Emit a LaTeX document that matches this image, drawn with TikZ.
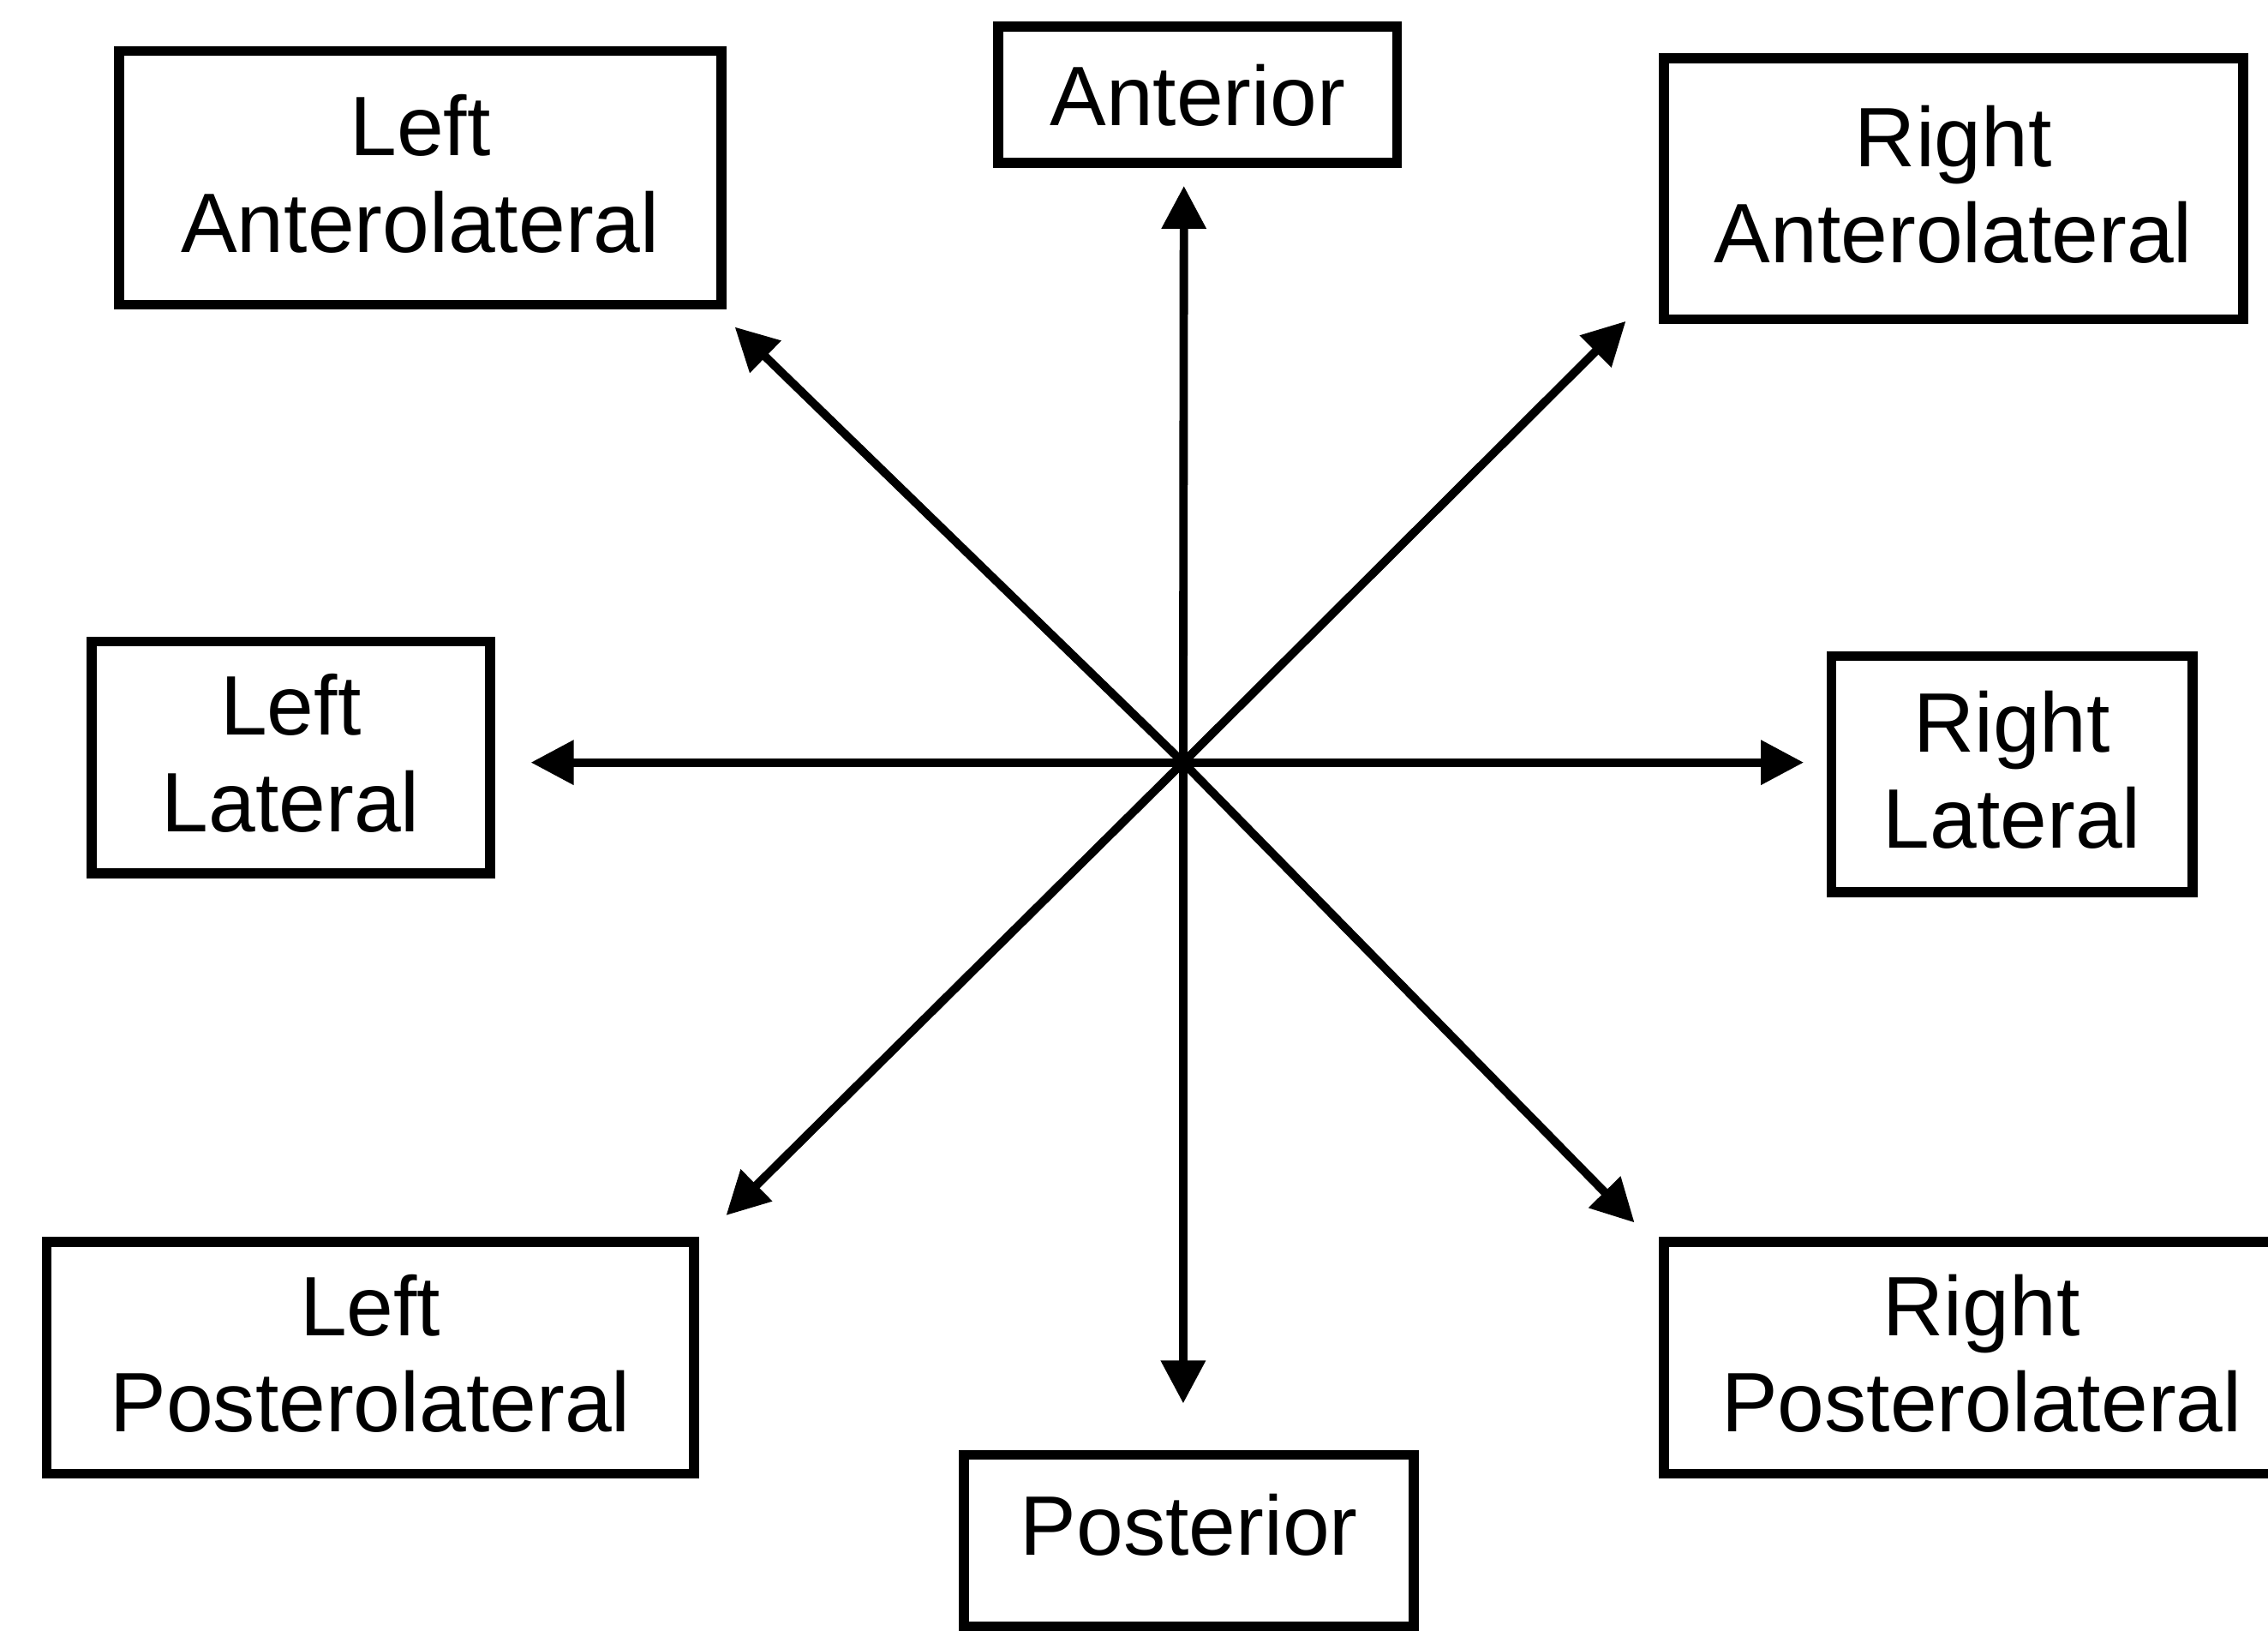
\documentclass[tikz,border=0pt]{standalone}
\usepackage{fontspec}
\setmainfont{Liberation Sans}
\usetikzlibrary{arrows.meta}

\begin{document}
\begin{tikzpicture}[
            x=0.01688cm, y=-0.01688cm,
            region/.style={draw, line width=3.3pt, align=center, inner sep=0pt,
                text depth=3pt, font=\fontsize{28}{32}\selectfont},
            eje/.style={-{Triangle[length=0.5cm, width=0.5cm]}, line width=2.8pt}
        ]
\useasboundingbox (0,0) rectangle (1568,1127);

\node[region, minimum width=4.65cm, minimum height=1.59cm, text depth=0pt] (ant) at (828,65.5) {Anterior};
\node[region, minimum width=7.03cm, minimum height=2.96cm] (lal) at (290.5,123) {Left\\Anterolateral};
\node[region, minimum width=6.76cm, minimum height=3.04cm] (ral) at (1350.5,130.5) {Right\\Anterolateral};
\node[region, minimum width=4.65cm, minimum height=2.70cm] (llat) at (201,523.5) {Left\\Lateral};
\node[region, minimum width=4.21cm, minimum height=2.75cm] (rlat) at (1391,535) {Right\\Lateral};
\node[region, minimum width=7.55cm, minimum height=2.70cm] (lpl) at (256,938.5) {Left\\Posterolateral};
\node[region, minimum width=7.41cm, minimum height=2.70cm] (rpl) at (1370,938.5) {Right\\Posterolateral};
\node[region, minimum width=5.25cm, minimum height=2.00cm, text depth=0.37cm] (post) at (822,1064.7) {Posterior};

% centre and arrow ends
\coordinate (c) at (818,527);
\coordinate (tant) at (818.5,128.5);
\coordinate (tpost) at (818,970);
\coordinate (tllat) at (367,527);
\coordinate (trlat) at (1247,527);
\coordinate (tlal) at (508,226);
\coordinate (tral) at (1124,222);
\coordinate (tlpl) at (502,840);
\coordinate (trpl) at (1130,845);

\draw[eje] (c) -- (tant);
\draw[eje] (c) -- (tpost);
\draw[eje] (c) -- (tllat);
\draw[eje] (c) -- (trlat);
\draw[eje] (c) -- (tlal);
\draw[eje] (c) -- (tral);
\draw[eje] (c) -- (tlpl);
\draw[eje] (c) -- (trpl);
\end{tikzpicture}
\end{document}
